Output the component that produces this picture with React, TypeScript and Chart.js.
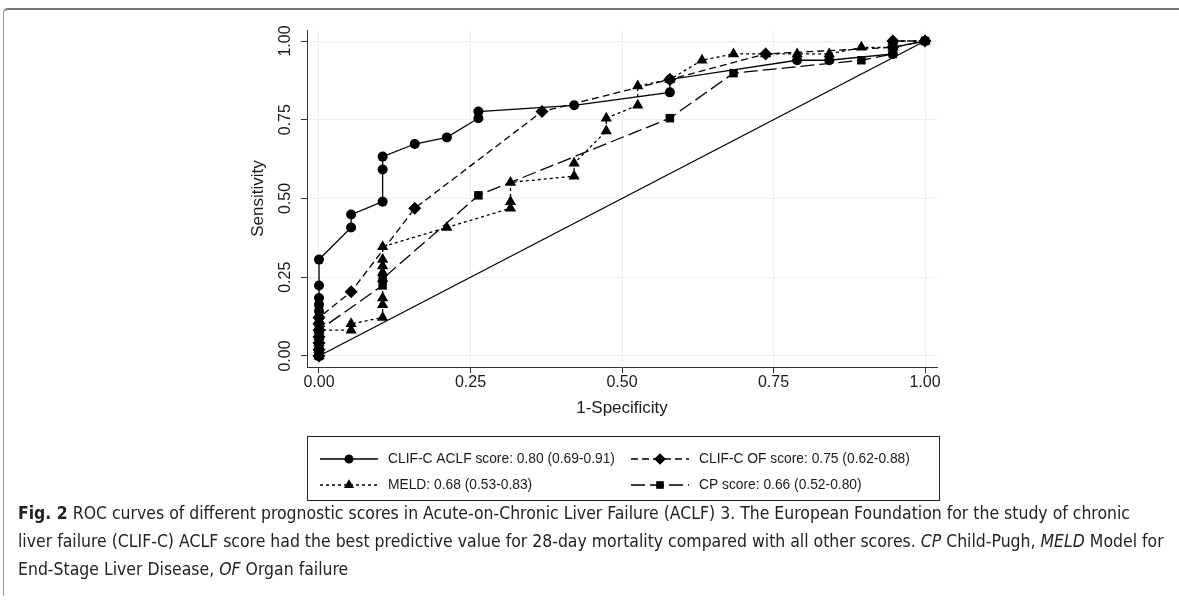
import React, { useEffect, useRef } from "react";
import { Chart, registerables } from "chart.js";

Chart.register(...registerables);

// ---------- data ----------
const xTickValues = [0, 0.25, 0.5, 0.75, 1];
const yTickValues = [0, 0.25, 0.5, 0.75, 1];

const aclfX = [0, 0, 0, 0, 0, 0, 0, 0, 0, 0, 0, 0, 0.053, 0.053, 0.105, 0.105, 0.105, 0.158, 0.211, 0.263, 0.263, 0.421, 0.579, 0.579, 0.789, 0.842, 0.947, 0.947, 1];
const aclfY = [0, 0.02, 0.041, 0.061, 0.082, 0.102, 0.122, 0.143, 0.163, 0.184, 0.224, 0.306, 0.408, 0.449, 0.49, 0.592, 0.633, 0.673, 0.694, 0.755, 0.776, 0.796, 0.837, 0.878, 0.939, 0.939, 0.959, 0.98, 1];

const ofX = [0, 0, 0, 0, 0, 0, 0, 0.053, 0.158, 0.368, 0.579, 0.737, 0.947, 0.947, 1];
const ofY = [0, 0.02, 0.041, 0.061, 0.082, 0.102, 0.122, 0.204, 0.469, 0.776, 0.878, 0.959, 0.98, 1, 1];

const meldX = [0, 0, 0, 0, 0, 0.053, 0.053, 0.105, 0.105, 0.105, 0.105, 0.105, 0.105, 0.105, 0.105, 0.211, 0.316, 0.316, 0.316, 0.421, 0.421, 0.474, 0.474, 0.526, 0.526, 0.579, 0.632, 0.684, 0.737, 0.789, 0.842, 0.895, 0.947, 0.947, 1];
const meldY = [0, 0.02, 0.041, 0.061, 0.082, 0.082, 0.102, 0.122, 0.163, 0.184, 0.245, 0.265, 0.286, 0.306, 0.347, 0.408, 0.469, 0.49, 0.551, 0.571, 0.612, 0.714, 0.755, 0.796, 0.857, 0.878, 0.939, 0.959, 0.959, 0.959, 0.959, 0.98, 0.98, 1, 1];

const cpX = [0, 0, 0, 0, 0, 0.105, 0.105, 0.263, 0.579, 0.684, 0.895, 0.947, 0.947, 1];
const cpY = [0, 0.02, 0.041, 0.061, 0.082, 0.224, 0.245, 0.51, 0.755, 0.898, 0.939, 0.959, 0.98, 1];

const refX = [0, 1];
const refY = [0, 1];

const seriesLabels = [
  "CLIF-C ACLF score: 0.80 (0.69-0.91)",
  "CLIF-C OF score: 0.75 (0.62-0.88)",
  "MELD: 0.68 (0.53-0.83)",
  "CP score: 0.66 (0.52-0.80)",
];

const xTitle = "1-Specificity";
const yTitle = "Sensitivity";

const captionLines = [
  [
    { t: "Fig. 2", b: true },
    { t: " ROC curves of different prognostic scores in Acute-on-Chronic Liver Failure (ACLF) 3. The European Foundation for the study of chronic" },
  ],
  [
    { t: "liver failure (CLIF-C) ACLF score had the best predictive value for 28-day mortality compared with all other scores. " },
    { t: "CP", i: true },
    { t: " Child-Pugh, " },
    { t: "MELD", i: true },
    { t: " Model for" },
  ],
  [
    { t: "End-Stage Liver Disease, " },
    { t: "OF", i: true },
    { t: " Organ failure" },
  ],
];

// ---------- styling / layout ----------
const FONT = '"Liberation Sans", Arial, Helvetica, sans-serif';
const CAPTION_FONT = '"Liberation Sans Narrow", "DejaVu Sans Condensed", "Liberation Sans", sans-serif';
const captionFirstLineWidth = 1112;
const captionTops = [499, 527, 555];

const pts = (xs: number[], ys: number[]) => xs.map((x, i) => ({ x, y: ys[i] }));

type Marker = "circle" | "rectRot" | "triangle" | "rect";

const seriesStyles: { dash: number[]; marker: Marker; r: number }[] = [
  { dash: [], marker: "circle", r: 5 },
  { dash: [7, 4], marker: "rectRot", r: 6.5 },
  { dash: [3, 3], marker: "triangle", r: 6.5 },
  { dash: [14, 5], marker: "rect", r: 6 },
];

function drawMarker(ctx: CanvasRenderingContext2D, m: Marker, x: number, y: number, r: number) {
  ctx.beginPath();
  if (m === "circle") {
    ctx.arc(x, y, r, 0, Math.PI * 2);
  } else if (m === "rectRot") {
    ctx.moveTo(x - r, y);
    ctx.lineTo(x, y - r);
    ctx.lineTo(x + r, y);
    ctx.lineTo(x, y + r);
    ctx.closePath();
  } else if (m === "triangle") {
    ctx.moveTo(x, y - r);
    ctx.lineTo(x + 0.866 * r, y + 0.5 * r);
    ctx.lineTo(x - 0.866 * r, y + 0.5 * r);
    ctx.closePath();
  } else {
    const s = r * Math.SQRT1_2;
    ctx.rect(x - s, y - s, 2 * s, 2 * s);
  }
  ctx.fill();
}

const boxLegend = {
  id: "boxLegend",
  afterDraw(chart: any) {
    const ctx: CanvasRenderingContext2D = chart.ctx;
    ctx.save();
    ctx.strokeStyle = "#222";
    ctx.lineWidth = 1;
    ctx.setLineDash([]);
    ctx.strokeRect(307.5, 436.5, 632, 64);
    const colX = [320, 631];
    const rowY = [459, 485];
    ctx.font = `13.8px ${FONT}`;
    ctx.textBaseline = "middle";
    ctx.textAlign = "left";
    seriesLabels.forEach((label, i) => {
      const st = seriesStyles[i];
      const sx = colX[i % 2];
      const y = rowY[Math.floor(i / 2)];
      ctx.strokeStyle = "#000";
      ctx.lineWidth = 1.3;
      ctx.setLineDash(st.dash);
      ctx.beginPath();
      ctx.moveTo(sx, y);
      ctx.lineTo(sx + 58, y);
      ctx.stroke();
      ctx.setLineDash([]);
      ctx.fillStyle = "#000";
      drawMarker(ctx, st.marker, sx + 29, y, st.r * 0.9);
      ctx.fillStyle = "#1a1a1a";
      ctx.fillText(label, sx + 68, y);
    });
    ctx.restore();
  },
};

export default function App() {
  const canvasRef = useRef<HTMLCanvasElement | null>(null);
  const lineRefs = useRef<(HTMLSpanElement | null)[]>([]);

  useEffect(() => {
    const canvas = canvasRef.current;
    if (!canvas) return;
    const seriesX = [aclfX, ofX, meldX, cpX];
    const seriesY = [aclfY, ofY, meldY, cpY];
    const datasets: any[] = seriesLabels.map((label, i) => {
      const st = seriesStyles[i];
      return {
        label,
        data: pts(seriesX[i], seriesY[i]),
        borderColor: "#000",
        backgroundColor: "#000",
        borderWidth: 1.3,
        borderDash: st.dash,
        pointStyle: st.marker,
        pointRadius: st.r,
        pointBorderWidth: 0,
        pointBackgroundColor: "#000",
        pointBorderColor: "#000",
        tension: 0,
        fill: false,
      };
    });
    datasets.push({
      label: "reference",
      data: pts(refX, refY),
      borderColor: "#000",
      borderWidth: 1.3,
      pointRadius: 0,
      tension: 0,
      fill: false,
    });

    const tickFont = { family: FONT, size: 16 };
    const titleFont = { family: FONT, size: 17 };
    const chart = new Chart(canvas, {
      type: "line",
      data: { datasets },
      plugins: [boxLegend],
      options: {
        animation: false,
        responsive: false,
        maintainAspectRatio: false,
        events: [],
        layout: { padding: { left: 240, right: 242, top: 30, bottom: 183 } },
        plugins: { legend: { display: false }, tooltip: { enabled: false } },
        scales: {
          x: {
            type: "linear",
            min: -0.0198,
            max: 1.0198,
            afterBuildTicks: (s: any) => {
              s.ticks = xTickValues.map((v) => ({ value: v }));
            },
            afterFit: (s: any) => {
              s.height = 53;
            },
            grid: { color: "#eeeeee", lineWidth: 1, tickColor: "#333", tickLength: 6, drawTicks: true },
            border: { color: "#333", width: 1 },
            ticks: {
              color: "#1a1a1a",
              font: tickFont,
              padding: 0,
              autoSkip: false,
              maxRotation: 0,
              callback: (v: any) => Number(v).toFixed(2),
            },
            title: { display: true, text: xTitle, color: "#1a1a1a", font: titleFont, padding: { top: 0, bottom: 1 } },
          },
          y: {
            type: "linear",
            min: -0.035,
            max: 1.035,
            afterBuildTicks: (s: any) => {
              s.ticks = yTickValues.map((v) => ({ value: v }));
            },
            afterFit: (s: any) => {
              s.width = 67;
            },
            grid: { color: "#eeeeee", lineWidth: 1, tickColor: "#333", tickLength: 6, drawTicks: true },
            border: { color: "#333", width: 1 },
            ticks: {
              color: "#1a1a1a",
              font: tickFont,
              padding: 0,
              autoSkip: false,
              minRotation: 90,
              maxRotation: 90,
              crossAlign: "center",
              callback: (v: any) => Number(v).toFixed(2),
            },
            title: { display: true, text: yTitle, color: "#1a1a1a", font: titleFont, padding: { top: 8, bottom: 0 } },
          },
        },
      } as any,
    });

    const els = lineRefs.current;
    els.forEach((el) => {
      if (el) el.style.transform = "none";
    });
    const first = els[0];
    const w0 = first ? first.getBoundingClientRect().width : 0;
    const k = w0 > 0 ? captionFirstLineWidth / w0 : 1;
    els.forEach((el) => {
      if (el) el.style.transform = `scaleX(${k})`;
    });

    return () => chart.destroy();
  }, []);

  return (
    <div style={{ position: "absolute", left: 0, top: 0, width: 1179, height: 603, background: "#fff", overflow: "hidden" }}>
      <div
        style={{
          position: "absolute",
          left: 3,
          top: 8,
          width: 1180,
          height: 588,
          borderTop: "2px solid #777",
          borderLeft: "1.5px solid #999",
          borderTopLeftRadius: 5,
          boxSizing: "border-box",
        }}
      />
      <canvas ref={canvasRef} width={1179} height={603} style={{ position: "absolute", left: 0, top: 0, width: 1179, height: 603 }} />
      {captionLines.map((line, i) => (
        <span
          key={i}
          ref={(el) => {
            lineRefs.current[i] = el;
          }}
          style={{
            position: "absolute",
            left: 18,
            top: captionTops[i],
            display: "inline-block",
            whiteSpace: "nowrap",
            fontFamily: CAPTION_FONT,
            fontSize: 18,
            lineHeight: "28px",
            color: "#222",
            transformOrigin: "left center",
          }}
        >
          {line.map((seg: any, j) => (
            <span key={j} style={{ fontWeight: seg.b ? 700 : 400, fontStyle: seg.i ? "italic" : "normal" }}>
              {seg.t}
            </span>
          ))}
        </span>
      ))}
    </div>
  );
}
